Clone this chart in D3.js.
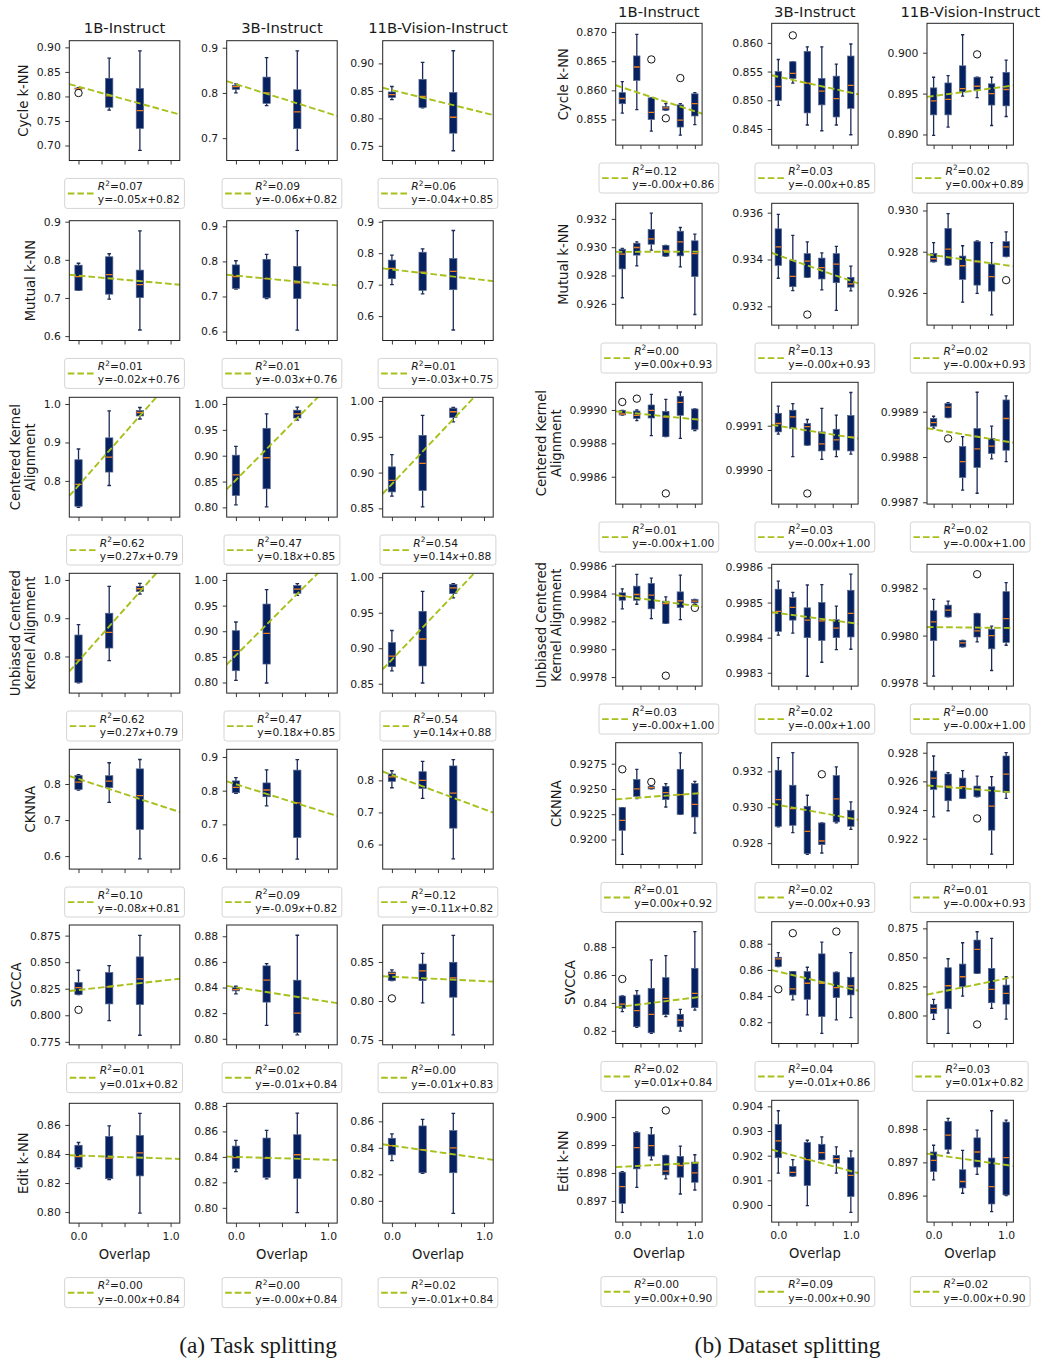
<!DOCTYPE html>
<html>
<head>
<meta charset="utf-8">
<script src="https://cdn.jsdelivr.net/npm/d3@7"></script>
<style>
  body { margin: 0; background: #fff; }
  svg { display: block; }
  text { font-family: "DejaVu Sans", sans-serif; fill: #1a1a1a; }
</style>
</head>
<body>
<svg id="chart" width="1043" height="1360"></svg>
<script>
// ---------------- data ----------------
const metricNames = ["Cycle k-NN", "Mutual k-NN", "Centered Kernel\nAlignment",
  "Unbiased Centered\nKernel Alignment", "CKNNA", "SVCCA", "Edit k-NN"];
const modelNames = ["1B-Instruct", "3B-Instruct", "11B-Vision-Instruct"];
const taskOverlaps = [0, 1 / 3, 2 / 3];
const datasetOverlaps = [0, 0.2, 0.4, 0.6, 0.8, 1.0];
const overlapTicks = [0, 0.25, 0.5, 0.75, 1];
const overlapTickLabels = ["0.0", "", "", "", "1.0"];
const captions = ["(a) Task splitting", "(b) Dataset splitting"];

// box statistics: [whisker low, q1, median, q3, whisker high]
const taskBoxes = [
  [[[0.815, 0.815, 0.816, 0.817, 0.818], [0.772, 0.778, 0.801, 0.837, 0.878], [0.690, 0.735, 0.771, 0.816, 0.893]],
   [[0.800, 0.808, 0.814, 0.817, 0.820], [0.772, 0.777, 0.800, 0.835, 0.878], [0.673, 0.721, 0.758, 0.807, 0.893]],
   [[0.834, 0.838, 0.843, 0.848, 0.858], [0.819, 0.820, 0.840, 0.871, 0.902], [0.741, 0.773, 0.802, 0.847, 0.923]]],
  [[[0.720, 0.720, 0.756, 0.786, 0.791], [0.697, 0.710, 0.761, 0.808, 0.816], [0.616, 0.701, 0.735, 0.773, 0.876]],
   [[0.721, 0.723, 0.757, 0.790, 0.802], [0.694, 0.696, 0.751, 0.806, 0.820], [0.604, 0.694, 0.739, 0.786, 0.888]],
   [[0.700, 0.719, 0.752, 0.778, 0.794], [0.671, 0.682, 0.740, 0.803, 0.814], [0.556, 0.684, 0.742, 0.783, 0.872]]],
  [[[0.731, 0.734, 0.791, 0.855, 0.883], [0.788, 0.823, 0.862, 0.912, 0.982], [0.961, 0.969, 0.978, 0.983, 0.991]],
   [[0.805, 0.823, 0.863, 0.901, 0.918], [0.801, 0.836, 0.896, 0.953, 0.981], [0.969, 0.973, 0.981, 0.988, 0.994]],
   [[0.867, 0.873, 0.889, 0.908, 0.925], [0.852, 0.875, 0.913, 0.952, 0.980], [0.971, 0.977, 0.985, 0.990, 0.991]]],
  [[[0.731, 0.732, 0.791, 0.856, 0.883], [0.789, 0.822, 0.863, 0.913, 0.983], [0.963, 0.970, 0.977, 0.983, 0.991]],
   [[0.804, 0.823, 0.862, 0.901, 0.918], [0.799, 0.836, 0.896, 0.953, 0.981], [0.970, 0.974, 0.982, 0.989, 0.993]],
   [[0.868, 0.874, 0.889, 0.908, 0.925], [0.851, 0.875, 0.913, 0.952, 0.980], [0.971, 0.977, 0.985, 0.990, 0.991]]],
  [[[0.783, 0.785, 0.805, 0.824, 0.826], [0.749, 0.790, 0.808, 0.823, 0.859], [0.592, 0.674, 0.768, 0.842, 0.868]],
   [[0.792, 0.794, 0.810, 0.829, 0.839], [0.755, 0.782, 0.802, 0.823, 0.862], [0.597, 0.661, 0.764, 0.861, 0.892]],
   [[0.777, 0.797, 0.811, 0.820, 0.830], [0.744, 0.775, 0.800, 0.827, 0.859], [0.555, 0.651, 0.760, 0.845, 0.865]]],
  [[[0.8195, 0.8195, 0.8261, 0.8308, 0.8424], [0.795, 0.8107, 0.8267, 0.8402, 0.8468], [0.7812, 0.8101, 0.8343, 0.855, 0.8753]],
   [[0.8351, 0.8374, 0.8384, 0.840, 0.841], [0.8104, 0.8286, 0.8457, 0.8569, 0.8587], [0.8031, 0.8049, 0.820, 0.8457, 0.8808]],
   [[0.8261, 0.8261, 0.8355, 0.8372, 0.8398], [0.7976, 0.8261, 0.8385, 0.8474, 0.8611], [0.7567, 0.8049, 0.8296, 0.8496, 0.8841]]],
  [[[0.830, 0.8309, 0.8382, 0.846, 0.8479], [0.8224, 0.823, 0.8371, 0.852, 0.8593], [0.7993, 0.8249, 0.8407, 0.8527, 0.868]],
   [[0.8285, 0.8309, 0.8395, 0.8485, 0.853], [0.8228, 0.8239, 0.839, 0.8548, 0.8608], [0.7962, 0.8231, 0.8417, 0.8574, 0.8744]],
   [[0.8304, 0.8347, 0.8417, 0.8472, 0.8505], [0.8207, 0.8212, 0.8387, 0.8565, 0.8615], [0.7906, 0.8212, 0.840, 0.853, 0.866]]]
];
// outliers: [box index, value]
const taskOutliers = [
  [[[0, 0.807]], [], []],
  [[], [], []],
  [[], [], []],
  [[], [], []],
  [[], [], []],
  [[[0, 0.8051]], [], [[0, 0.8034]]],
  [[], [], []]
];
// linear fit: [slope, intercept]
const taskFits = [
  [[-0.0516, 0.8200], [-0.0640, 0.8196], [-0.0413, 0.8515]],
  [[-0.0219, 0.7587], [-0.0254, 0.7595], [-0.0336, 0.7482]],
  [[0.272, 0.788], [0.180, 0.853], [0.136, 0.884]],
  [[0.272, 0.788], [0.180, 0.853], [0.136, 0.884]],
  [[-0.0833, 0.8139], [-0.0858, 0.8191], [-0.107, 0.817]],
  [[0.00967, 0.8238], [-0.01125, 0.8402], [-0.00567, 0.8311]],
  [[-0.0021, 0.8389], [-0.0022, 0.8400], [-0.00983, 0.8417]]
];
const taskR2 = [
  [0.07, 0.09, 0.06], [0.01, 0.01, 0.01], [0.62, 0.47, 0.54], [0.62, 0.47, 0.54],
  [0.10, 0.09, 0.12], [0.01, 0.02, 0.00], [0.00, 0.00, 0.02]
];
const taskTicks = [
  [["0.70", "0.75", "0.80", "0.85", "0.90"], ["0.7", "0.8", "0.9"], ["0.75", "0.80", "0.85", "0.90"]],
  [["0.6", "0.7", "0.8", "0.9"], ["0.6", "0.7", "0.8", "0.9"], ["0.6", "0.7", "0.8", "0.9"]],
  [["0.8", "0.9", "1.0"], ["0.80", "0.85", "0.90", "0.95", "1.00"], ["0.85", "0.90", "0.95", "1.00"]],
  [["0.8", "0.9", "1.0"], ["0.80", "0.85", "0.90", "0.95", "1.00"], ["0.85", "0.90", "0.95", "1.00"]],
  [["0.6", "0.7", "0.8"], ["0.6", "0.7", "0.8", "0.9"], ["0.6", "0.7", "0.8"]],
  [["0.775", "0.800", "0.825", "0.850", "0.875"], ["0.80", "0.82", "0.84", "0.86", "0.88"], ["0.75", "0.80", "0.85"]],
  [["0.80", "0.82", "0.84", "0.86"], ["0.80", "0.82", "0.84", "0.86", "0.88"], ["0.80", "0.82", "0.84", "0.86"]]
];
const taskLimits = [
  [[0.6695, 0.9136], [0.6506, 0.9155], [0.7233, 0.9413]],
  [[0.5885, 0.9026], [0.5744, 0.9162], [0.5226, 0.9032]],
  [[0.7058, 1.0175], [0.7812, 1.0130], [0.8378, 1.0052]],
  [[0.7042, 1.0174], [0.7793, 1.0130], [0.8368, 1.0056]],
  [[0.5639, 0.8963], [0.5673, 0.9228], [0.5233, 0.8969]],
  [[0.7722, 0.8850], [0.7953, 0.8888], [0.7440, 0.8973]],
  [[0.7924, 0.8749], [0.7880, 0.8821], [0.7832, 0.8736]]
];

const datasetBoxes = [
  [[[0.8561, 0.8577, 0.8586, 0.8596, 0.8615], [0.8567, 0.8617, 0.8640, 0.8659, 0.8696], [0.8530, 0.8550, 0.8562, 0.8587, 0.8587],
    [0.8566, 0.8566, 0.8570, 0.8572, 0.8577], [0.8523, 0.8537, 0.8549, 0.8575, 0.8577], [0.8541, 0.8556, 0.8577, 0.8594, 0.8596]],
   [[0.8491, 0.8500, 0.8524, 0.8550, 0.8571], [0.8530, 0.8538, 0.8547, 0.8567, 0.8567], [0.8457, 0.8478, 0.8530, 0.8585, 0.8593],
    [0.8447, 0.8492, 0.8516, 0.8538, 0.8593], [0.8457, 0.8471, 0.8503, 0.8542, 0.8563], [0.8440, 0.8486, 0.8526, 0.8577, 0.8598]],
   [[0.8899, 0.8924, 0.8941, 0.8957, 0.8970], [0.8909, 0.8924, 0.8943, 0.8963, 0.8972], [0.8947, 0.8952, 0.8956, 0.8984, 0.9022],
    [0.8945, 0.8954, 0.8959, 0.8970, 0.8970], [0.8911, 0.8936, 0.8950, 0.8962, 0.8970], [0.8922, 0.8935, 0.8955, 0.8976, 0.8991]]],
  [[[0.92643, 0.92847, 0.92951, 0.92986, 0.92991], [0.92868, 0.92944, 0.92998, 0.93028, 0.93038], [0.92979, 0.93021, 0.93059, 0.93125, 0.93240],
    [0.92937, 0.92937, 0.92977, 0.93012, 0.93012], [0.92861, 0.92939, 0.93038, 0.93113, 0.93139], [0.92525, 0.92793, 0.92955, 0.93045, 0.93092]],
   [[0.93320, 0.93375, 0.93454, 0.93531, 0.93593], [0.93267, 0.93284, 0.93328, 0.93397, 0.93503], [0.93324, 0.93324, 0.93393, 0.93425, 0.93475],
    [0.93270, 0.93317, 0.93365, 0.93406, 0.93428], [0.93183, 0.93301, 0.93380, 0.93425, 0.93456], [0.93266, 0.93282, 0.93296, 0.93324, 0.93372]],
   [[0.92751, 0.92751, 0.92766, 0.92792, 0.92844], [0.92735, 0.92735, 0.92813, 0.92913, 0.92985], [0.92555, 0.92666, 0.92732, 0.92779, 0.92829],
    [0.92598, 0.92638, 0.92751, 0.92849, 0.92852], [0.92494, 0.92609, 0.92679, 0.92740, 0.92844], [0.92776, 0.92776, 0.92824, 0.92849, 0.92896]]],
  [[[0.998970, 0.998970, 0.998976, 0.998998, 0.998998], [0.998936, 0.998950, 0.998968, 0.998994, 0.999000], [0.998846, 0.998952, 0.998998, 0.999030, 0.999094],
    [0.998840, 0.998840, 0.998958, 0.998992, 0.999064], [0.998830, 0.998968, 0.999046, 0.999082, 0.999108], [0.998876, 0.998884, 0.998944, 0.999006, 0.999006]],
   [[0.999081, 0.999086, 0.999105, 0.999128, 0.999144], [0.999030, 0.999094, 0.999120, 0.999135, 0.999150], [0.999056, 0.999056, 0.999098, 0.999105, 0.999114],
    [0.999024, 0.999043, 0.999059, 0.999086, 0.999139], [0.999030, 0.999045, 0.999068, 0.999092, 0.999124], [0.999036, 0.999043, 0.999075, 0.999123, 0.999175]],
   [[0.998864, 0.998868, 0.998876, 0.998885, 0.998890], [0.998887, 0.998887, 0.998910, 0.998918, 0.998920], [0.998727, 0.998755, 0.998790, 0.998823, 0.998845],
    [0.998720, 0.998777, 0.998818, 0.998863, 0.998943], [0.998796, 0.998808, 0.998824, 0.998841, 0.998868], [0.998790, 0.998815, 0.998885, 0.998926, 0.998935]]],
  [[[0.998290, 0.998352, 0.998381, 0.998405, 0.998434], [0.998323, 0.998352, 0.998393, 0.998453, 0.998537], [0.998220, 0.998290, 0.998388, 0.998472, 0.998510],
    [0.998186, 0.998186, 0.998328, 0.998345, 0.998376], [0.998213, 0.998299, 0.998347, 0.998412, 0.998532], [0.998333, 0.998333, 0.998345, 0.998357, 0.998357]],
   [[0.998407, 0.998418, 0.998475, 0.998538, 0.998561], [0.998413, 0.998450, 0.998486, 0.998514, 0.998529], [0.998290, 0.998400, 0.998450, 0.998485, 0.998550],
    [0.998330, 0.998392, 0.998448, 0.998500, 0.998551], [0.998366, 0.998400, 0.998427, 0.998451, 0.998490], [0.998367, 0.998402, 0.998469, 0.998535, 0.998581]],
   [[0.997828, 0.997979, 0.998058, 0.998105, 0.998153], [0.998079, 0.998079, 0.998108, 0.998129, 0.998146], [0.997952, 0.997952, 0.997969, 0.997980, 0.997980],
    [0.997973, 0.997994, 0.998020, 0.998094, 0.998094], [0.997852, 0.997944, 0.998000, 0.998027, 0.998040], [0.997959, 0.997971, 0.998072, 0.998186, 0.998224]]],
  [[[0.918532, 0.920908, 0.921898, 0.923152, 0.923152], [0.924043, 0.924274, 0.925000, 0.925924, 0.926947], [0.925000, 0.925000, 0.925132, 0.925264, 0.925264],
    [0.923218, 0.923944, 0.924637, 0.925264, 0.925528], [0.922492, 0.922492, 0.924439, 0.926947, 0.928564], [0.920644, 0.922228, 0.923482, 0.925528, 0.925759]],
   [[0.928903, 0.928940, 0.930428, 0.932065, 0.932771], [0.928586, 0.928996, 0.929926, 0.931228, 0.933050], [0.927377, 0.927415, 0.928661, 0.930056, 0.930670],
    [0.927452, 0.927917, 0.928121, 0.929126, 0.929126], [0.929126, 0.929182, 0.930465, 0.931767, 0.932251], [0.928772, 0.928940, 0.929368, 0.929833, 0.930298]],
   [[0.923530, 0.925441, 0.926233, 0.926722, 0.927771], [0.923950, 0.924649, 0.925674, 0.926513, 0.926606], [0.924812, 0.924812, 0.925627, 0.926233, 0.926746],
    [0.924928, 0.924928, 0.925441, 0.925674, 0.926373], [0.920921, 0.922598, 0.924276, 0.925627, 0.926326], [0.924812, 0.925231, 0.926513, 0.927771, 0.928004]]],
  [[[0.833710, 0.836100, 0.839207, 0.844943, 0.844943], [0.822477, 0.822955, 0.834427, 0.845660, 0.848767], [0.818175, 0.818653, 0.831798, 0.850440, 0.870755],
    [0.830125, 0.831559, 0.843270, 0.858088, 0.873862], [0.819848, 0.822955, 0.827735, 0.831798, 0.835383], [0.834905, 0.836578, 0.846855, 0.864780, 0.891070]],
   [[0.862550, 0.862550, 0.868415, 0.869690, 0.873260], [0.837050, 0.840875, 0.845465, 0.858725, 0.858725], [0.825575, 0.837560, 0.849800, 0.858725, 0.862040],
    [0.811550, 0.824300, 0.849800, 0.872240, 0.881165], [0.821750, 0.838835, 0.846485, 0.858215, 0.858215], [0.823535, 0.840875, 0.847760, 0.854390, 0.873260]],
   [[0.796618, 0.801784, 0.806089, 0.809533, 0.813838], [0.784564, 0.805802, 0.825605, 0.841103, 0.848852], [0.816708, 0.824744, 0.833354, 0.844260, 0.862628],
    [0.836224, 0.836224, 0.856888, 0.864924, 0.872099], [0.806089, 0.810968, 0.822448, 0.840529, 0.866359], [0.796905, 0.809820, 0.819004, 0.826179, 0.833354]]],
  [[[0.896588, 0.896912, 0.897512, 0.898028, 0.898052], [0.897488, 0.898148, 0.898904, 0.899444, 0.899468], [0.898472, 0.898604, 0.898976, 0.899372, 0.899624],
    [0.897788, 0.897932, 0.898064, 0.898628, 0.898628], [0.897248, 0.897848, 0.898268, 0.898592, 0.898964], [0.897392, 0.897668, 0.898004, 0.898388, 0.898652]],
   [[0.901293, 0.901918, 0.902598, 0.903265, 0.903822], [0.901170, 0.901170, 0.901320, 0.901565, 0.901837], [0.899974, 0.900790, 0.901837, 0.902530, 0.902626],
    [0.901837, 0.901837, 0.902122, 0.902462, 0.902762], [0.901293, 0.901701, 0.901878, 0.902014, 0.902354], [0.899702, 0.900341, 0.901198, 0.901918, 0.902190]],
   [[0.896475, 0.896727, 0.897061, 0.897313, 0.897515], [0.897283, 0.897394, 0.897818, 0.898232, 0.898323], [0.896071, 0.896232, 0.896424, 0.896778, 0.897364],
    [0.896636, 0.896859, 0.897313, 0.897737, 0.897970], [0.895515, 0.895748, 0.896273, 0.897131, 0.898555], [0.896000, 0.896020, 0.897141, 0.898212, 0.898273]]]
];
const datasetOutliers = [
  [[[2, 0.8653], [3, 0.8552], [4, 0.8621]], [[1, 0.8613]], [[3, 0.8998]]],
  [[], [[2, 0.93165]], [[5, 0.92662]]],
  [[[0, 0.999048], [1, 0.999068], [3, 0.998500]], [[2, 0.998947]], [[1, 0.998841]]],
  [[[3, 0.997810], [5, 0.998297]], [], [[3, 0.998260]]],
  [[[0, 0.926947], [2, 0.925693]], [[3, 0.931841]], [[3, 0.923414]]],
  [[[0, 0.857132]], [[0, 0.845210], [1, 0.888050], [4, 0.889325]], [[3, 0.792313]]],
  [[[3, 0.900236]], [], []]
];
const datasetFits = [
  [[-0.0041, 0.8605], [-0.00277, 0.8541], [0.00117, 0.8947]],
  [[0.00002, 0.92967], [-0.00109, 0.93418], [-0.000486, 0.92783]],
  [[-0.0000436, 0.998988], [-0.000026, 0.9990996], [-0.0000268, 0.998861]],
  [[-0.0000704, 0.998382], [-0.0000277, 0.99847], [-0.0000036, 0.998036]],
  [[0.000526, 0.924021], [-0.000748, 0.930131], [-0.00041, 0.92568]],
  [[0.00641, 0.837407], [-0.01325, 0.858675], [0.01275, 0.81913]],
  [[0.00014, 0.898221], [-0.000798, 0.902172], [-0.000313, 0.897234]]
];
const datasetR2 = [
  [0.12, 0.03, 0.02], [0.00, 0.13, 0.02], [0.01, 0.03, 0.02], [0.03, 0.02, 0.00],
  [0.01, 0.02, 0.01], [0.02, 0.04, 0.03], [0.00, 0.09, 0.02]
];
const datasetTicks = [
  [["0.855", "0.860", "0.865", "0.870"], ["0.845", "0.850", "0.855", "0.860"], ["0.890", "0.895", "0.900"]],
  [["0.926", "0.928", "0.930", "0.932"], ["0.932", "0.934", "0.936"], ["0.926", "0.928", "0.930"]],
  [["0.9986", "0.9988", "0.9990"], ["0.9990", "0.9991"], ["0.9987", "0.9988", "0.9989"]],
  [["0.9978", "0.9980", "0.9982", "0.9984", "0.9986"], ["0.9983", "0.9984", "0.9985", "0.9986"], ["0.9978", "0.9980", "0.9982"]],
  [["0.9200", "0.9225", "0.9250", "0.9275"], ["0.928", "0.930", "0.932"], ["0.922", "0.924", "0.926", "0.928"]],
  [["0.82", "0.84", "0.86", "0.88"], ["0.82", "0.84", "0.86", "0.88"], ["0.800", "0.825", "0.850", "0.875"]],
  [["0.897", "0.898", "0.899", "0.900"], ["0.900", "0.901", "0.902", "0.903", "0.904"], ["0.896", "0.897", "0.898"]]
];
const datasetLimits = [
  [[0.8506, 0.8715], [0.8422, 0.8634], [0.8887, 0.9036]],
  [[0.9245, 0.9331], [0.9312, 0.9364], [0.92444, 0.93035]],
  [[0.998436, 0.999166], [0.998923, 0.999198], [0.998696, 0.998965]],
  [[0.997735, 0.99861], [0.998262, 0.998609], [0.997786, 0.998302]],
  [[0.917525, 0.92958], [0.92681, 0.9336], [0.9202, 0.9287]],
  [[0.81094, 0.89816], [0.803758, 0.896833], [0.77589, 0.88074]],
  [[0.896243, 0.9006], [0.899306, 0.904245], [0.895202, 0.898869]]
];

// ---------------- layout & style ----------------
const BOX_FILL = "#06215f";
const BOX_EDGE = "#52638a";
const WHISKER = "#1c2b57";
const MEDIAN = "#f07f1e";
const FIT = "#a9c01c";
const FIT_DASH = "6.6,3";
const TICK_FONT = 10.8;
const LABEL_FONT = 13.2;
const LEGEND_FONT = 10.7;

const layouts = [
  { key: "task", xs: [69.3, 226.7, 382.7], w: 110.5, h: 119.8,
    tops: [40.7, 220.7, 397.3, 573.3, 749.3, 925.0, 1103.3],
    xDomain: [-0.1, 1.1], boxW: 7.3, titleGap: 7.4, captionX: 258,
    boxes: taskBoxes, outliers: taskOutliers, fits: taskFits, r2: taskR2,
    ticks: taskTicks, limits: taskLimits, positions: taskOverlaps },
  { key: "dataset", xs: [615.7, 771.7, 927.0], w: 86.4, h: 121.8,
    tops: [23.3, 203.3, 382.3, 564.3, 742.7, 921.7, 1100.3],
    xDomain: [-0.091, 1.1], boxW: 6.4, titleGap: 6.0, captionX: 787.5,
    boxes: datasetBoxes, outliers: datasetOutliers, fits: datasetFits, r2: datasetR2,
    ticks: datasetTicks, limits: datasetLimits, positions: datasetOverlaps }
];

const svg = d3.select("#chart");
const defs = svg.append("defs");
const nRows = metricNames.length;

function styleAxis(g) {
  g.select(".domain").remove();
  g.selectAll(".tick line").attr("stroke", "#222").attr("stroke-width", 0.9);
  g.selectAll(".tick text").attr("font-size", TICK_FONT)
    .attr("font-family", "'DejaVu Sans', sans-serif").attr("fill", "#1a1a1a");
  g.attr("font-size", null).attr("font-family", null);
}

layouts.forEach(L => {
  for (let r = 0; r < nRows; r++) {
    for (let c = 0; c < modelNames.length; c++) {
      const x0 = L.xs[c], top = L.tops[r], w = L.w, h = L.h;
      const x = d3.scaleLinear().domain(L.xDomain).range([x0, x0 + w]);
      const y = d3.scaleLinear().domain(L.limits[r][c]).range([top + h, top]);
      const clipId = `clip-${L.key}-${r}-${c}`;
      defs.append("clipPath").attr("id", clipId)
        .append("rect").attr("x", x0).attr("y", top).attr("width", w).attr("height", h);

      const cell = svg.append("g");
      const plot = cell.append("g").attr("clip-path", `url(#${clipId})`);

      // boxes
      const bw = L.boxW;
      L.boxes[r][c].forEach((b, i) => {
        const cx = x(L.positions[i]);
        const [lo, q1, med, q3, hi] = b;
        const g = plot.append("g");
        g.append("line").attr("x1", cx).attr("x2", cx).attr("y1", y(lo)).attr("y2", y(q1))
          .attr("stroke", WHISKER).attr("stroke-width", 1.3);
        g.append("line").attr("x1", cx).attr("x2", cx).attr("y1", y(q3)).attr("y2", y(hi))
          .attr("stroke", WHISKER).attr("stroke-width", 1.3);
        [lo, hi].forEach(v => {
          g.append("line").attr("x1", cx - bw / 4).attr("x2", cx + bw / 4)
            .attr("y1", y(v)).attr("y2", y(v))
            .attr("stroke", WHISKER).attr("stroke-width", 1.3);
        });
        g.append("rect").attr("x", cx - bw / 2).attr("y", y(q3))
          .attr("width", bw).attr("height", Math.max(0.6, y(q1) - y(q3)))
          .attr("fill", BOX_FILL).attr("stroke", BOX_EDGE).attr("stroke-width", 0.7);
        g.append("line").attr("x1", cx - bw / 2 + 0.4).attr("x2", cx + bw / 2 - 0.4)
          .attr("y1", y(med)).attr("y2", y(med))
          .attr("stroke", MEDIAN).attr("stroke-width", 1.3);
      });
      L.outliers[r][c].forEach(([i, v]) => {
        plot.append("circle").attr("cx", x(L.positions[i])).attr("cy", y(v)).attr("r", 3.7)
          .attr("fill", "none").attr("stroke", "#111").attr("stroke-width", 1);
      });

      // linear fit
      const [slope, intercept] = L.fits[r][c];
      const fitLine = d3.line().x(d => x(d)).y(d => y(slope * d + intercept));
      plot.append("path").datum(L.xDomain).attr("d", fitLine)
        .attr("fill", "none").attr("stroke", FIT).attr("stroke-width", 1.9)
        .attr("stroke-dasharray", FIT_DASH);

      // frame
      cell.append("rect").attr("x", x0).attr("y", top).attr("width", w).attr("height", h)
        .attr("fill", "none").attr("stroke", "#222").attr("stroke-width", 1);

      // axes
      const tickStr = L.ticks[r][c];
      const yAxis = d3.axisLeft(y).tickValues(tickStr.map(Number))
        .tickFormat((d, i) => tickStr[i]).tickSize(4).tickPadding(4.5);
      const yg = cell.append("g").attr("transform", `translate(${x0},0)`).call(yAxis);
      styleAxis(yg);

      const isBottom = r === nRows - 1;
      const xAxis = d3.axisBottom(x).tickValues(overlapTicks)
        .tickFormat((d, i) => isBottom ? overlapTickLabels[i] : "").tickSize(4).tickPadding(5.5);
      const xg = cell.append("g").attr("transform", `translate(0,${top + h})`).call(xAxis);
      styleAxis(xg);

      if (isBottom) {
        cell.append("text").attr("x", x0 + w / 2).attr("y", top + h + 35.5)
          .attr("text-anchor", "middle").attr("font-size", LABEL_FONT).text("Overlap");
      }

      // column title
      if (r === 0) {
        cell.append("text").attr("x", x0 + w / 2).attr("y", top - L.titleGap)
          .attr("text-anchor", "middle").attr("font-size", 14.8).text(modelNames[c]);
      }

      // row label
      if (c === 0) {
        let maxW = 0;
        yg.selectAll(".tick text").each(function () {
          maxW = Math.max(maxW, this.getComputedTextLength());
        });
        const bx = x0 - 8.5 - maxW - 8.5;
        const lines = metricNames[r].split("\n");
        const lab = cell.append("text")
          .attr("transform", `translate(${bx},${top + h / 2}) rotate(-90)`)
          .attr("text-anchor", "middle").attr("font-size", LABEL_FONT);
        lines.forEach((ln, k) => {
          lab.append("tspan").attr("x", 0).attr("y", -(lines.length - 1 - k) * 15).text(ln);
        });
      }

      // legend below the axes
      const r2 = L.r2[r][c];
      const ly = top + h + (isBottom ? 54 : 17.4);
      const lg = cell.append("g");
      const t1 = lg.append("text").attr("x", 33.7).attr("y", 12).attr("font-size", LEGEND_FONT);
      t1.append("tspan").attr("font-style", "italic").text("R");
      t1.append("tspan").attr("font-size", 7.4).attr("dy", -4.3).text("2");
      t1.append("tspan").attr("dy", 4.3).text("=" + r2.toFixed(2));
      const t2 = lg.append("text").attr("x", 33.7).attr("y", 25.5).attr("font-size", LEGEND_FONT);
      t2.append("tspan").text("y=" + slope.toFixed(2));
      t2.append("tspan").attr("font-style", "italic").text("x");
      t2.append("tspan").text("+" + intercept.toFixed(2));
      const tw = Math.max(t1.node().getComputedTextLength(), t2.node().getComputedTextLength());
      const W = 33.7 + tw + 5;
      lg.insert("rect", "text").attr("x", 0.5).attr("y", 0.5).attr("width", W - 1).attr("height", 30)
        .attr("rx", 2.5).attr("fill", "#fff").attr("stroke", "#d4d4d4").attr("stroke-width", 1);
      lg.insert("line", "text").attr("x1", 3.6).attr("x2", 31.2).attr("y1", 15.6).attr("y2", 15.6)
        .attr("stroke", FIT).attr("stroke-width", 1.9).attr("stroke-dasharray", FIT_DASH);
      lg.attr("transform", `translate(${x0 + w / 2 - W / 2},${ly})`);
    }
  }
});

// panel captions
layouts.forEach((L, i) => {
  svg.append("text").attr("x", L.captionX).attr("y", 1353)
    .attr("text-anchor", "middle")
    .style("font-family", "'Liberation Serif', 'Times New Roman', serif")
    .attr("font-size", 23.4).text(captions[i]);
});
</script>
</body>
</html>
